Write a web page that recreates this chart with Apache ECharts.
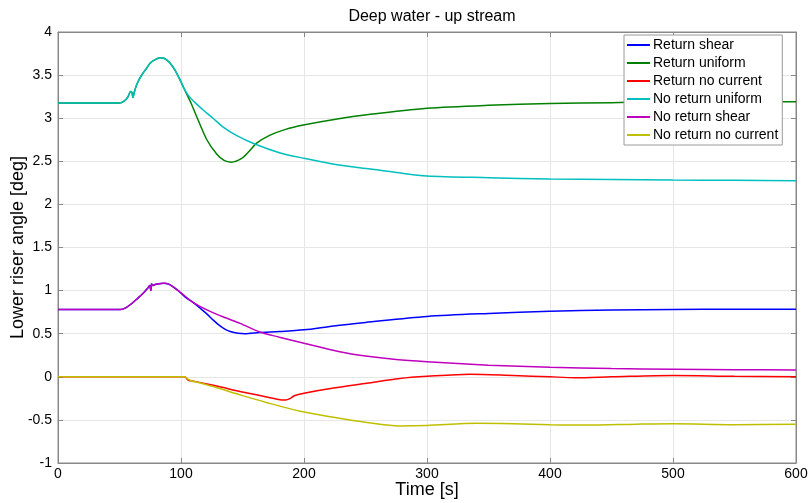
<!DOCTYPE html>
<html>
<head>
<meta charset="utf-8">
<script src="https://cdn.jsdelivr.net/npm/echarts@6/dist/echarts.min.js"></script>
<style>
html,body{margin:0;padding:0;background:#fff;}
#chart{width:810px;height:503px;}
</style>
</head>
<body>
<div id="chart"></div>
<script>
// ---- data ----
var seriesNames = ['Return shear','Return uniform','Return no current','No return uniform','No return shear','No return no current'];
var xTicks = [0,100,200,300,400,500,600];
var yTicks = [-1,-0.5,0,0.5,1,1.5,2,2.5,3,3.5,4];

var tReturnShear = [0,51,55,60,64,67,70,73,74.5,75.5,76,77,79,82,86,90,94,98.5,103,110,116,121,126,131.7,136,140,146.5,152,164,180,200,224,250,300,350,400,450,500,550,600];
var vReturnShear = [0.78,0.78,0.80,0.85,0.90,0.94,0.98,1.03,1.06,1.00,1.08,1.06,1.07,1.08,1.085,1.075,1.04,0.99,0.93,0.86,0.79,0.73,0.66,0.59,0.55,0.525,0.505,0.50,0.515,0.525,0.545,0.59,0.63,0.70,0.735,0.76,0.775,0.78,0.785,0.785];

var tReturnUniform = [0,50,54,57,59,60,61,62,63.5,66,69,72,75,79,83,87,91,95,99,103,108,112.7,121,129,135,141,149,155,161.5,172,185,199.5,227,254,300,350,400,450,500,550,600];
var vReturnUniform = [3.175,3.175,3.20,3.25,3.31,3.30,3.24,3.30,3.37,3.45,3.52,3.58,3.64,3.68,3.70,3.69,3.64,3.56,3.45,3.33,3.18,3.02,2.75,2.585,2.51,2.49,2.53,2.61,2.71,2.80,2.87,2.92,2.99,3.045,3.115,3.15,3.17,3.18,3.19,3.19,3.19];

var tReturnNoCurrent = [0,103,104,106,110,120,130,148,165,178,185,189,192,200,224,251,278,300,335,370,400,420,450,500,550,600];
var vReturnNoCurrent = [0,0,-0.01,-0.04,-0.05,-0.08,-0.11,-0.17,-0.22,-0.26,-0.27,-0.25,-0.22,-0.19,-0.13,-0.075,-0.02,0.005,0.03,0.015,0.0,-0.01,0.0,0.015,0.005,0.0];

var tNoReturnUniform = [0,50,54,57,59,60,61,62,63.5,66,69,72,75,79,83,87,91,95,99,103,108,113,118,126,134,145,160,180,200,227,254,275,300,350,400,450,500,550,600];
var vNoReturnUniform = [3.175,3.175,3.20,3.25,3.31,3.30,3.24,3.30,3.37,3.45,3.52,3.58,3.64,3.68,3.70,3.69,3.64,3.56,3.45,3.33,3.23,3.16,3.095,3.00,2.90,2.80,2.70,2.60,2.535,2.46,2.41,2.37,2.33,2.31,2.295,2.29,2.283,2.28,2.275];

var tNoReturnShear = [0,51,55,60,64,67,70,73,74.5,75.5,76,77,79,82,86,90,94,98.5,103,107,115,125,135,148,164,180,200,229,250,275,300,350,400,450,500,550,600];
var vNoReturnShear = [0.78,0.78,0.80,0.85,0.90,0.94,0.98,1.03,1.06,1.00,1.08,1.06,1.07,1.08,1.085,1.075,1.04,0.99,0.94,0.89,0.82,0.75,0.69,0.62,0.52,0.46,0.39,0.29,0.24,0.20,0.175,0.135,0.11,0.095,0.087,0.083,0.08];

var tNoReturnNoCurrent = [0,103,105,108,115,130,148,170,197,224,251,278,300,340,370,400,430,470,500,550,600];
var vNoReturnNoCurrent = [0,0,-0.02,-0.045,-0.07,-0.13,-0.21,-0.30,-0.40,-0.47,-0.53,-0.57,-0.565,-0.54,-0.545,-0.555,-0.56,-0.55,-0.545,-0.555,-0.55];

var seriesColors = ['#0000ff','#008000','#ff0000','#00bfbf','#bf00bf','#bfbf00'];

function pairs(t, v){ var out=[]; for(var i=0;i<t.length;i++){ out.push([t[i], v[i]]); } return out; }
var allT = [tReturnShear,tReturnUniform,tReturnNoCurrent,tNoReturnUniform,tNoReturnShear,tNoReturnNoCurrent];
var allV = [vReturnShear,vReturnUniform,vReturnNoCurrent,vNoReturnUniform,vNoReturnShear,vNoReturnNoCurrent];

var FONT = '"Liberation Sans", Arial, sans-serif';
var series = seriesNames.map(function(n,i){
  return {
    name: n, type: 'line', data: pairs(allT[i], allV[i]),
    xAxisIndex: 0, yAxisIndex: 0,
    showSymbol: false, smooth: 0.3, animation: false,
    lineStyle: {color: seriesColors[i], width: 1.5},
    itemStyle: {color: seriesColors[i]}
  };
});

var chart = echarts.init(document.getElementById('chart'), null, {renderer:'canvas'});
var axisCommon = {
  type: 'value',
  axisLine: {show: true, onZero: false, lineStyle: {color: '#888888', width: 1}},
  axisTick: {show: true, inside: true, length: 5, lineStyle: {color: '#888888'}}
};
chart.setOption({
  animation: false,
  backgroundColor: '#ffffff',
  title: {
    text: 'Deep water - up stream', left: 427, top: 4, textAlign: 'center',
    textStyle: {fontFamily: FONT, fontSize: 16, fontWeight: 'normal', color: '#000'}
  },
  grid: {left: 58, right: 14, top: 32, bottom: 40, show: true, borderColor: '#888888', borderWidth: 1, containLabel: false, outerBoundsMode: 'none'},
  legend: {
    orient: 'vertical', left: 624, top: 35,
    data: seriesNames,
    icon: 'rect', itemWidth: 23, itemHeight: 2, itemGap: 4,
    padding: [3, 4, 3, 3],
    borderColor: '#9a9a9a', borderWidth: 1, backgroundColor: '#ffffff',
    textStyle: {fontFamily: FONT, fontSize: 14, color: '#000', lineHeight: 14, padding: [0,0,0,-2]}
  },
  xAxis: [
    Object.assign({}, axisCommon, {
      min: xTicks[0], max: xTicks[xTicks.length-1], interval: 100, position: 'bottom',
      name: 'Time [s]', nameLocation: 'middle', nameGap: 18, nameMoveOverlap: false,
      nameTextStyle: {fontFamily: FONT, fontSize: 18, color: '#000'},
      axisLabel: {fontFamily: FONT, fontSize: 14, color: '#000', margin: 4},
      splitLine: {show: true, lineStyle: {color: '#e6e6e6', width: 1}}
    }),
    Object.assign({}, axisCommon, {
      min: xTicks[0], max: xTicks[xTicks.length-1], interval: 100, position: 'top',
      axisLabel: {show: false}, splitLine: {show: false}
    })
  ],
  yAxis: [
    Object.assign({}, axisCommon, {
      min: yTicks[0], max: yTicks[yTicks.length-1], interval: 0.5, position: 'left',
      name: 'Lower riser angle [deg]', nameLocation: 'middle', nameGap: 31, nameRotate: 90, nameMoveOverlap: false,
      nameTextStyle: {fontFamily: FONT, fontSize: 18, color: '#000'},
      axisLabel: {fontFamily: FONT, fontSize: 14, color: '#000', margin: 6},
      splitLine: {show: true, lineStyle: {color: '#e6e6e6', width: 1}}
    }),
    Object.assign({}, axisCommon, {
      min: yTicks[0], max: yTicks[yTicks.length-1], interval: 0.5, position: 'right',
      axisLabel: {show: false}, splitLine: {show: false}
    })
  ],
  series: series
});
</script>
</body>
</html>
